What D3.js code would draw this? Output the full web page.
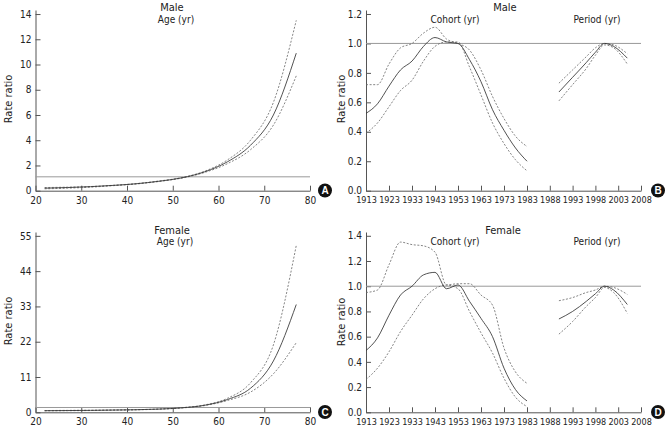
<!DOCTYPE html>
<html><head><meta charset="utf-8">
<script src="https://cdn.jsdelivr.net/npm/d3@7"></script>
<style>
body{margin:0;background:#fff;}
svg{display:block;font-family:"Liberation Sans Narrow","Arial Narrow","DejaVu Sans Condensed",sans-serif;}
</style></head><body>
<svg id="c" width="666" height="430"></svg>
<script>
// ---- data ----
const ages = [22,27,32,37,42,47,52,57,62,67,72,77];
const maleAge      = [0.2,0.25,0.32,0.42,0.55,0.75,1.02,1.5,2.3,3.6,6.0,10.9];
const maleAgeHi    = [0.25,0.28,0.33,0.43,0.56,0.77,1.04,1.55,2.45,4.0,7.0,13.5];
const maleAgeLo    = [0.15,0.2,0.28,0.4,0.53,0.73,1.0,1.45,2.15,3.25,5.2,9.1];
const femaleAge    = [0.5,0.55,0.6,0.7,0.8,1.0,1.4,2.2,4.0,7.5,16,33.6];
const femaleAgeHi  = [0.55,0.6,0.65,0.72,0.82,1.02,1.45,2.3,4.4,9.2,21,52];
const femaleAgeLo  = [0.45,0.5,0.55,0.67,0.78,0.97,1.35,2.1,3.7,6.3,12,21.7];

const cohorts = [1913,1918,1923,1928,1933,1938,1943,1948,1953,1958,1963,1968,1973,1978,1983];
const maleCoh     = [0.525,0.59,0.71,0.82,0.88,0.98,1.04,1.01,1.0,0.89,0.74,0.55,0.41,0.29,0.2];
const maleCohHi   = [0.72,0.72,0.86,0.97,1.0,1.07,1.11,1.03,1.0,0.955,0.82,0.64,0.49,0.37,0.3];
const maleCohLo   = [0.39,0.46,0.57,0.68,0.75,0.88,0.98,1.01,1.01,0.84,0.65,0.46,0.32,0.21,0.135];
const femaleCoh   = [0.49,0.59,0.77,0.93,1.0,1.09,1.11,0.98,1.01,0.88,0.745,0.6,0.35,0.18,0.09];
const femaleCohHi = [0.95,0.97,1.17,1.35,1.33,1.32,1.27,1.01,1.02,1.02,0.93,0.85,0.51,0.32,0.23];
const femaleCohLo = [0.26,0.35,0.48,0.64,0.77,0.9,0.98,1.01,0.98,0.8,0.63,0.47,0.27,0.12,0.045];

const periods = [1990,1993,1996,1998,2000,2002,2005];
const malePer     = [0.67,0.77,0.87,0.94,1.0,0.98,0.9];
const malePerHi   = [0.73,0.82,0.91,0.97,1.0,0.99,0.93];
const malePerLo   = [0.61,0.72,0.83,0.92,0.99,0.97,0.86];
const femalePer   = [0.74,0.8,0.88,0.94,1.0,0.97,0.855];
const femalePerHi = [0.885,0.91,0.95,0.97,1.0,0.99,0.935];
const femalePerLo = [0.62,0.72,0.84,0.91,0.99,0.95,0.785];

const ageTicks = [20,30,40,50,60,70,80];
const yearTicks = [1913,1923,1933,1943,1953,1963,1973,1983,1988,1993,1998,2003,2008];
const maleAgeYTicks = [0,2,4,6,8,10,12,14];
const femaleAgeYTicks = [0,11,22,33,44,55];
const maleCohYTicks = [0,0.2,0.4,0.6,0.8,1.0,1.2];
const femaleCohYTicks = [0,0.2,0.4,0.6,0.8,1.0,1.2,1.4];

// ---- drawing ----
const svg = d3.select("#c");
const AX = "#555", TX = "#222";

function line(g, x, y, xs, ys, dashed){
  const gen = d3.line().x((d,i)=>x(xs[i])).y(d=>y(d)).curve(d3.curveMonotoneX);
  g.append("path").attr("d", gen(ys)).attr("fill","none")
   .attr("stroke", dashed ? "#666" : "#333").attr("stroke-width", dashed?0.8:0.85)
   .attr("stroke-dasharray", dashed ? "2,1.6" : null);
}

function axes(g, x, y, xt, yt, yfmt, xfs, refVal, x0, x1){
  const ya = d3.axisLeft(y).tickValues(yt).tickSizeInner(-5).tickSizeOuter(0).tickPadding(4).tickFormat(yfmt);
  const yg = g.append("g").attr("transform",`translate(${x0},0)`).call(ya);
  const xa = d3.axisBottom(x).tickValues(xt).tickSizeInner(-5).tickSizeOuter(0).tickPadding(6).tickFormat(d3.format("d"));
  const xg = g.append("g").attr("transform",`translate(0,${y(0)})`).call(xa);
  [yg,xg].forEach(a=>{
    a.selectAll("path,line").attr("stroke",AX);
    a.selectAll("text").attr("fill",TX);
    a.attr("font-family",null);
  });
  yg.attr("font-size",10);
  xg.attr("font-size",xfs);
  g.append("line").attr("x1",x0).attr("x2",x1).attr("y1",y(refVal)).attr("y2",y(refVal))
   .attr("stroke","#999").attr("stroke-width",1);
}

function txt(x,y,s,fs,rot){
  const t = svg.append("text").attr("text-anchor","middle").attr("font-size",fs).attr("fill",TX).text(s);
  if(rot) t.attr("transform",`translate(${x},${y}) rotate(-90)`); else t.attr("x",x).attr("y",y);
}
function badge(x,y,s){
  svg.append("circle").attr("cx",x).attr("cy",y).attr("r",7).attr("fill","#111");
  svg.append("text").attr("x",x).attr("y",y+3.6).attr("text-anchor","middle").attr("font-size",10)
    .attr("font-weight","bold").attr("fill","#fff").attr("font-family","Liberation Sans, Arial, sans-serif").text(s);
}

// panel A
(function(){
  const g = svg.append("g");
  const x = d3.scaleLinear().domain([20,80]).range([35.5,310]);
  const y = d3.scaleLinear().domain([0,14.32]).range([190.7,10]);
  axes(g,x,y,ageTicks,maleAgeYTicks,d3.format("d"),10,1.1,35.5,310);
  line(g,x,y,ages,maleAgeHi,true); line(g,x,y,ages,maleAgeLo,true); line(g,x,y,ages,maleAge,false);
  txt(172,11,"Male",11); txt(176,22.5,"Age (yr)",10); txt(11.5,99,"Rate ratio",11,true);
  badge(325,190.5,"A");
})();
// panel B
(function(){
  const g = svg.append("g");
  const x = d3.scaleLinear().domain([1913,1983,2008]).range([366,527,641]);
  const y = d3.scaleLinear().domain([0,1.227]).range([190.7,10]);
  axes(g,x,y,yearTicks,maleCohYTicks,d3.format(".1f"),9,1.0,366,641);
  line(g,x,y,cohorts,maleCohHi,true); line(g,x,y,cohorts,maleCohLo,true); line(g,x,y,cohorts,maleCoh,false);
  line(g,x,y,periods,malePerHi,true); line(g,x,y,periods,malePerLo,true); line(g,x,y,periods,malePer,false);
  txt(505,11,"Male",11); txt(455,22.5,"Cohort (yr)",10); txt(597,22.5,"Period (yr)",10);
  txt(344.5,99,"Rate ratio",11,true);
  badge(658,190.5,"B");
})();
// panel C
(function(){
  const g = svg.append("g");
  const x = d3.scaleLinear().domain([20,80]).range([35.5,310]);
  const y = d3.scaleLinear().domain([0,56.2]).range([412.3,232]);
  axes(g,x,y,ageTicks,femaleAgeYTicks,d3.format("d"),10,1.5,35.5,310);
  line(g,x,y,ages,femaleAgeHi,true); line(g,x,y,ages,femaleAgeLo,true); line(g,x,y,ages,femaleAge,false);
  txt(172,234,"Female",11); txt(175,244.5,"Age (yr)",10); txt(11.5,321,"Rate ratio",11,true);
  badge(325,412,"C");
})();
// panel D
(function(){
  const g = svg.append("g");
  const x = d3.scaleLinear().domain([1913,1983,2008]).range([366,527,641]);
  const y = d3.scaleLinear().domain([0,1.43]).range([412.3,232]);
  axes(g,x,y,yearTicks,femaleCohYTicks,d3.format(".1f"),9,1.0,366,641);
  line(g,x,y,cohorts,femaleCohHi,true); line(g,x,y,cohorts,femaleCohLo,true); line(g,x,y,cohorts,femaleCoh,false);
  line(g,x,y,periods,femalePerHi,true); line(g,x,y,periods,femalePerLo,true); line(g,x,y,periods,femalePer,false);
  txt(503,234,"Female",11); txt(455,244.5,"Cohort (yr)",10); txt(597,244.5,"Period (yr)",10);
  txt(344.5,322,"Rate ratio",11,true);
  badge(658,412,"D");
})();
</script></body></html>
